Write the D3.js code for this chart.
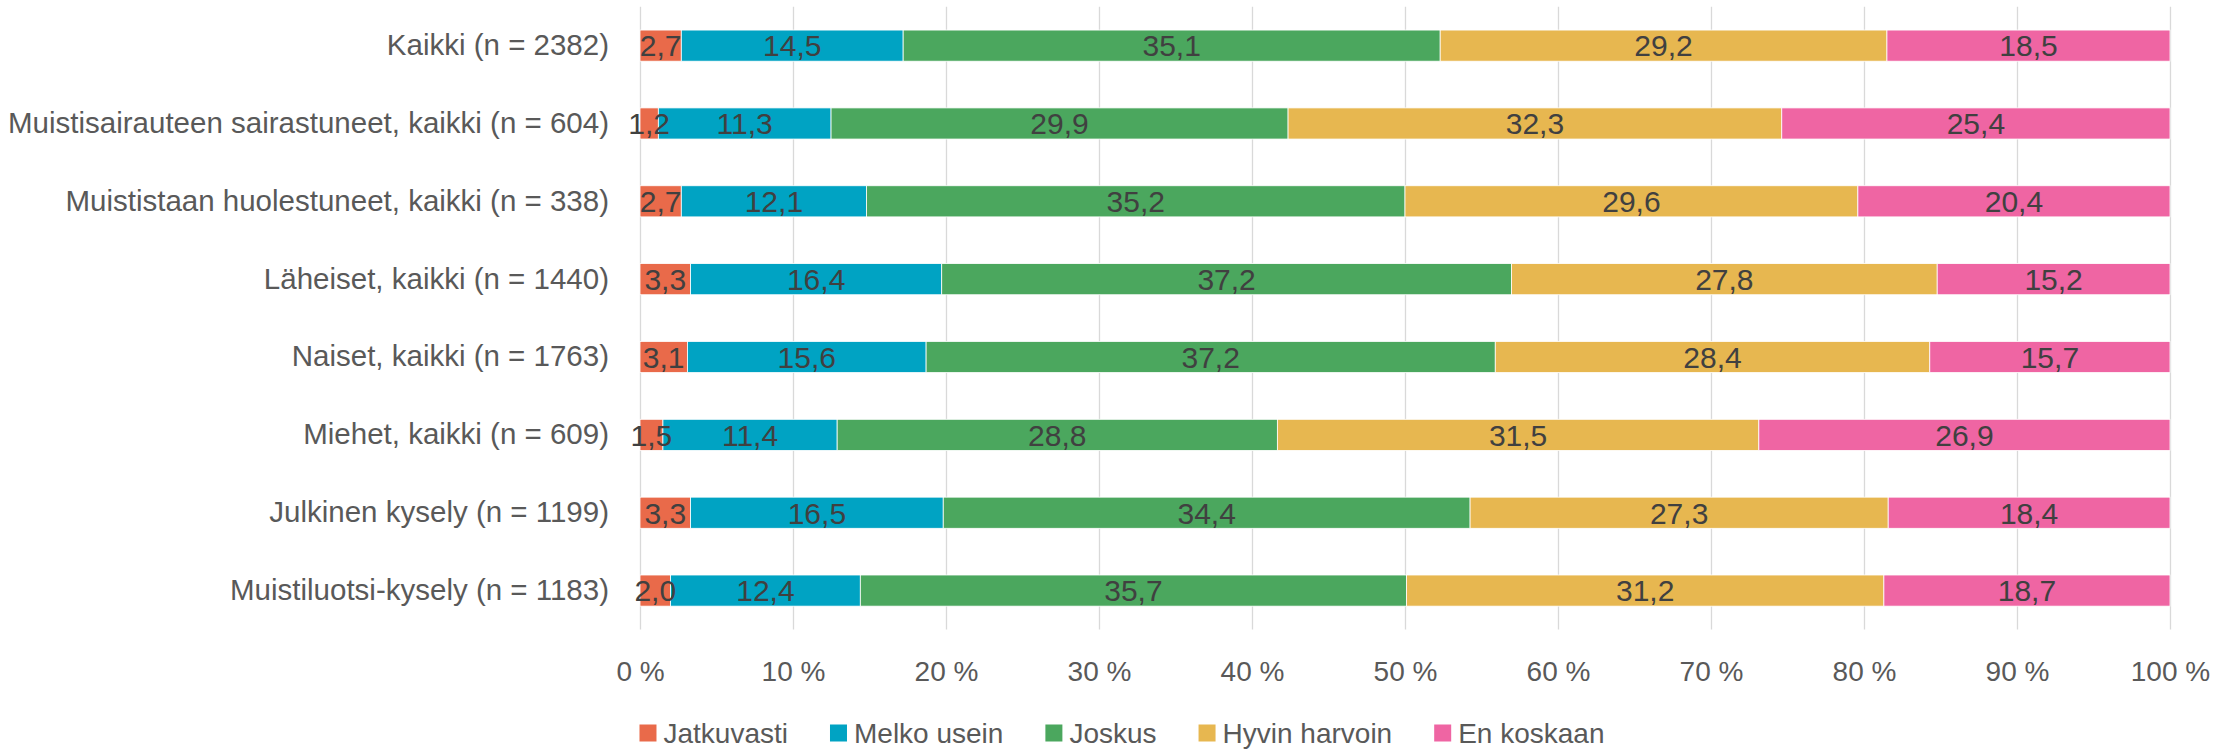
<!DOCTYPE html>
<html>
<head>
<meta charset="utf-8">
<script src="https://cdn.jsdelivr.net/npm/d3@7"></script>
<style>
    body { margin: 0; background: #fff; }
    svg text { font-family: "Liberation Sans", Arial, sans-serif; }
</style>
</head>
<body>
<script>
"use strict";

// categories, top to bottom
const categories = [
    "Kaikki (n = 2382)",
    "Muistisairauteen sairastuneet, kaikki (n = 604)",
    "Muististaan huolestuneet, kaikki (n = 338)",
    "Läheiset, kaikki (n = 1440)",
    "Naiset, kaikki (n = 1763)",
    "Miehet, kaikki (n = 609)",
    "Julkinen kysely (n = 1199)",
    "Muistiluotsi-kysely (n = 1183)"
];

const seriesNames = ["Jatkuvasti", "Melko usein", "Joskus", "Hyvin harvoin", "En koskaan"];

const jatkuvasti   = [2.7, 1.2, 2.7, 3.3, 3.1, 1.5, 3.3, 2.0];
const melkoUsein   = [14.5, 11.3, 12.1, 16.4, 15.6, 11.4, 16.5, 12.4];
const joskus       = [35.1, 29.9, 35.2, 37.2, 37.2, 28.8, 34.4, 35.7];
const hyvinHarvoin = [29.2, 32.3, 29.6, 27.8, 28.4, 31.5, 27.3, 31.2];
const enKoskaan    = [18.5, 25.4, 20.4, 15.2, 15.7, 26.9, 18.4, 18.7];

const tickValues = [0, 0.1, 0.2, 0.3, 0.4, 0.5, 0.6, 0.7, 0.8, 0.9, 1];
const tickLabels = ["0 %", "10 %", "20 %", "30 %", "40 %", "50 %", "60 %", "70 %", "80 %", "90 %", "100 %"];

const colors = ["#E96A4A", "#00A3C3", "#4BA75E", "#E7B750", "#EF65A3"];

const measurements = {
    width: 2237,
    height: 749,
    plotLeft: 640,
    plotRight: 2170,
    plotTop: 6.7,
    plotBottom: 629.5
};

window.onload = function() {
    const svg = d3.select("body").append("svg")
        .attr("width", measurements.width)
        .attr("height", measurements.height);

    const allSeries = [jatkuvasti, melkoUsein, joskus, hyvinHarvoin, enKoskaan];
    const rows = categories.map((c, i) => {
        let row = { category: c };
        seriesNames.forEach((s, j) => row[s] = allSeries[j][i]);
        return row;
    });

    const stacked = d3.stack()
        .keys(seriesNames)
        .offset(d3.stackOffsetExpand)(rows);

    const scaleX = d3.scaleLinear()
        .domain([0, 1])
        .range([measurements.plotLeft, measurements.plotRight]);

    const scaleY = d3.scaleBand()
        .domain(categories)
        .range([measurements.plotTop, measurements.plotBottom])
        .paddingInner(0.6)
        .paddingOuter(0.3);

    // gridlines
    svg.append("g")
        .attr("transform", `translate(0,${measurements.plotBottom})`)
        .call(d3.axisBottom(scaleX)
            .tickValues(tickValues)
            .tickSize(-(measurements.plotBottom - measurements.plotTop))
            .tickFormat(""))
        .call(g => g.select(".domain").remove())
        .call(g => g.selectAll("line").attr("stroke", "#d9d9d9").attr("stroke-width", 1.3));

    // x tick labels
    svg.append("g")
        .attr("transform", `translate(0,${measurements.plotBottom})`)
        .call(d3.axisBottom(scaleX)
            .tickValues(tickValues)
            .tickSize(0)
            .tickFormat((d, i) => tickLabels[i]))
        .call(g => g.select(".domain").remove())
        .call(g => g.selectAll("text")
            .attr("y", 42)
            .attr("dy", "0.35em")
            .attr("fill", "#595959")
            .style("font-size", "28px")
            .style("font-family", "'Liberation Sans', Arial, sans-serif"));

    // category labels
    svg.append("g")
        .attr("transform", `translate(${measurements.plotLeft},0)`)
        .call(d3.axisLeft(scaleY).tickSize(0).tickPadding(31))
        .call(g => g.select(".domain").remove())
        .call(g => g.selectAll("text")
            .attr("fill", "#595959")
            .style("font-size", "29.5px")
            .style("font-family", "'Liberation Sans', Arial, sans-serif"));

    // bars
    const groups = svg.append("g").selectAll("g.series")
        .data(stacked)
        .enter()
        .append("g")
        .attr("class", "series")
        .attr("fill", (d, i) => colors[i]);

    groups.selectAll("rect")
        .data(d => d)
        .enter()
        .append("rect")
        .attr("x", d => scaleX(d[0]))
        .attr("y", d => scaleY(d.data.category))
        .attr("width", d => scaleX(d[1]) - scaleX(d[0]))
        .attr("height", scaleY.bandwidth())
        .attr("stroke", "#ffffff")
        .attr("stroke-width", 0.8);

    // data labels, drawn after every bar so small ones are not covered
    const fmt = d3.format(".1f");
    const labels = svg.append("g");
    stacked.forEach(series => {
        labels.selectAll(null)
            .data(series)
            .enter()
            .append("text")
            .attr("x", d => (scaleX(d[0]) + scaleX(d[1])) / 2)
            .attr("y", d => scaleY(d.data.category) + scaleY.bandwidth() / 2)
            .attr("dy", "0.36em")
            .attr("text-anchor", "middle")
            .attr("fill", "#404040")
            .style("font-size", "30px")
            .text(d => fmt(d.data[series.key]).replace(".", ","));
    });

    // legend
    const legend = svg.append("g");
    const swatch = 17, gapText = 7, gapItem = 42;
    let xPos = 0;
    seriesNames.forEach((s, i) => {
        const item = legend.append("g").attr("transform", `translate(${xPos},0)`);
        item.append("rect")
            .attr("x", 0)
            .attr("y", -swatch / 2)
            .attr("width", swatch)
            .attr("height", swatch)
            .attr("fill", colors[i]);
        const t = item.append("text")
            .attr("x", swatch + gapText)
            .attr("dy", "0.35em")
            .attr("fill", "#595959")
            .style("font-size", "28px")
            .text(s);
        xPos += swatch + gapText + t.node().getComputedTextLength() + gapItem;
    });
    const legendWidth = xPos - gapItem;
    legend.attr("transform", `translate(${1122 - legendWidth / 2},733)`);
};
</script>
</body>
</html>
